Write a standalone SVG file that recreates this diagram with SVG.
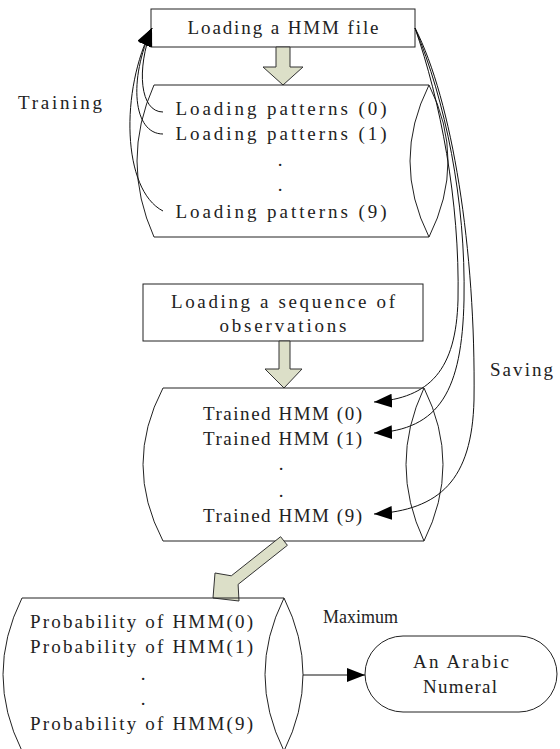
<svg xmlns="http://www.w3.org/2000/svg" width="560" height="749" viewBox="0 0 560 749">
<style>
  .t { font-family: "Liberation Serif", "DejaVu Serif", serif; font-size: 19px; fill: #222; }
  .m { text-anchor: middle; }
  .box { fill: #fff; stroke: #222; stroke-width: 1; }
  .shape { fill: none; stroke: #222; stroke-width: 1; }
  .blk { fill: #dcdfc8; stroke: #333; stroke-width: 1; }
  .con { fill: none; stroke: #111; stroke-width: 1; }
</style>
<defs>
  <marker id="ah" markerUnits="userSpaceOnUse" markerWidth="20" markerHeight="16" refX="18" refY="7" orient="auto">
    <path d="M0,0 L18,7 L0,14 Z" fill="#000"/>
  </marker>
</defs>
<rect width="560" height="749" fill="#fff"/>

<g id="load-hmm">
  <rect class="box" x="151" y="9" width="264" height="38"/>
  <text class="t m" x="283" y="34" textLength="191">Loading a HMM file</text>
</g>

<g id="arrow1">
  <path class="blk" d="M276,47 L290,47 L290,67 L303,67 L283,85 L263,67 L276,67 Z"/>
</g>

<g id="patterns">
  <path class="shape" d="M154,85 L429,85 M154,237 L429,237 M154,85 Q120,161 154,237 M429,85 Q391,161 429,237 M429,85 Q467,161 429,237"/>
  <text class="t m" x="281" y="115" textLength="211">Loading patterns (0)</text>
  <text class="t m" x="281" y="140" textLength="211">Loading patterns (1)</text>
  <text class="t m" x="280" y="166">.</text>
  <text class="t m" x="280" y="191">.</text>
  <text class="t m" x="281" y="218" textLength="211">Loading patterns (9)</text>
</g>

<g id="load-seq">
  <rect class="box" x="143" y="284" width="280" height="57"/>
  <text class="t m" x="283" y="308" textLength="224">Loading a sequence of</text>
  <text class="t m" x="283" y="332" textLength="127">observations</text>
</g>

<g id="arrow2">
  <path class="blk" d="M279,341 L290,341 L290,369 L302,369 L284,388 L265,369 L279,369 Z"/>
</g>

<g id="trained">
  <path class="shape" d="M163,388 L424,388 M163,541 L424,541 M163,388 Q123,464.5 163,541 M424,388 Q388,464.5 424,541 M424,388 Q462,464.5 424,541"/>
  <text class="t m" x="282.5" y="420" textLength="159">Trained HMM (0)</text>
  <text class="t m" x="282.5" y="445" textLength="159">Trained HMM (1)</text>
  <text class="t m" x="281" y="470">.</text>
  <text class="t m" x="281" y="497">.</text>
  <text class="t m" x="282.5" y="522" textLength="159">Trained HMM (9)</text>
</g>

<g id="arrow3">
  <path class="blk" d="M287.4,545.3 L280.6,536.7 L231.3,575.8 L215,573 L213,598 L239,601 L238.1,584.4 Z"/>
</g>

<g id="probability">
  <path class="shape" d="M22,598 L284,598 M22,598 Q-16,674.5 22,751 M284,598 Q246,674.5 284,751 M284,598 Q322,674.5 284,751"/>
  <text class="t m" x="141.5" y="628" textLength="223">Probability of HMM(0)</text>
  <text class="t m" x="141.5" y="653" textLength="223">Probability of HMM(1)</text>
  <text class="t m" x="143" y="680">.</text>
  <text class="t m" x="143" y="705">.</text>
  <text class="t m" x="141.5" y="730" textLength="223">Probability of HMM(9)</text>
</g>

<g id="numeral">
  <rect class="box" x="365" y="636" width="192" height="76" rx="38" ry="38"/>
  <text class="t m" x="461" y="668" textLength="96">An Arabic</text>
  <text class="t m" x="460" y="693" textLength="74">Numeral</text>
</g>

<g id="labels">
  <text class="t" x="18" y="109" textLength="84">Training</text>
  <text class="t" x="490" y="376" textLength="63">Saving</text>
  <text class="t" x="323" y="623" textLength="75" lengthAdjust="spacingAndGlyphs">Maximum</text>
</g>

<g id="connectors">
  <path class="con" d="M163,112 C140,112 136,70 152,28" marker-end="url(#ah)"/>
  <path class="con" d="M163,134 C133,134 128,80 152,28" marker-end="url(#ah)"/>
  <path class="con" d="M163,211 C122,190 120,90 152,28" marker-end="url(#ah)"/>
  <path class="con" d="M415,28 C440,100 460,200 458,300 C456,370 430,398 374,402" marker-end="url(#ah)"/>
  <path class="con" d="M415,28 C445,100 466,200 464,300 C462,390 440,430 374,433" marker-end="url(#ah)"/>
  <path class="con" d="M415,28 C452,100 476,250 474,400 C472,480 440,510 374,514" marker-end="url(#ah)"/>
  <path class="con" d="M303,675 L365,675" marker-end="url(#ah)"/>
</g>
</svg>
